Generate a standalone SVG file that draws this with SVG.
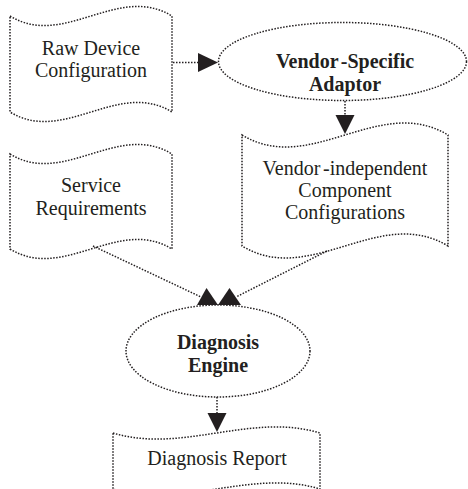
<svg xmlns="http://www.w3.org/2000/svg" width="468" height="489" viewBox="0 0 468 489">
<style>
.s{fill:#fff;stroke:#231f20;stroke-width:1.5;stroke-dasharray:1.5 1.5}
.c{fill:none;stroke:#231f20;stroke-width:1.5;stroke-dasharray:1.5 1.5}
.ah{fill:#231f20;stroke:none}
.t{font-family:"Liberation Serif","Times New Roman",serif;font-size:20px;fill:#231f20;text-anchor:middle}
.b{font-weight:bold}
</style>
<rect width="468" height="489" fill="#fff"/>
<g id="raw">
<path class="s" d="M10,16 C64,49 118,-17 172,16 L172,112 C118,79 64,145 10,112 Z"/>
<text class="t" x="91" y="55">Raw Device</text>
<text class="t" x="91" y="77">Configuration</text>
</g>
<g id="adaptor">
<ellipse class="s" cx="342.5" cy="61.5" rx="124" ry="39"/>
<text class="t b" x="345" y="68">Vendor<tspan dx="3">-Specific</tspan></text>
<text class="t b" x="345" y="91">Adaptor</text>
</g>
<g id="service">
<path class="s" d="M10,154 C64,187 118,121 172,154 L172,249 C118,216 64,282 10,249 Z"/>
<text class="t" x="91" y="192">Service</text>
<text class="t" x="91" y="215">Requirements</text>
</g>
<g id="independent">
<path class="s" d="M242,135 C310.7,176.5 379.3,93.5 448,135 L448,246 C379.3,204.5 310.7,287.5 242,246 Z"/>
<text class="t" x="345" y="175">Vendor<tspan dx="3">-independent</tspan></text>
<text class="t" x="345" y="197">Component</text>
<text class="t" x="345" y="219">Configurations</text>
</g>
<g id="engine">
<ellipse class="s" cx="218" cy="351" rx="92" ry="46"/>
<text class="t b" x="218" y="349">Diagnosis</text>
<text class="t b" x="218" y="372">Engine</text>
</g>
<g id="report">
<path class="s" d="M113,433 C182,454 251,412 320,433 L320,489 C251,468 182,510 113,489 Z"/>
<text class="t" x="217" y="465">Diagnosis Report</text>
</g>
<g id="connectors">
<path class="c" d="M173,62.5 H199"/>
<polygon class="ah" points="198,53 218,62.5 198,72"/>
<path class="c" d="M345,101 V116"/>
<polygon class="ah" points="335.5,115 345,134 354.5,115"/>
<path class="c" d="M93,246 L201,297"/>
<polygon class="ah" points="197,305 206.5,288 218,305"/>
<path class="c" d="M327,251 L236,297"/>
<polygon class="ah" points="218,305 229.5,288 241,305"/>
<path class="c" d="M217,397 V414"/>
<polygon class="ah" points="207.5,413 217,432 226.5,413"/>
</g>
</svg>
